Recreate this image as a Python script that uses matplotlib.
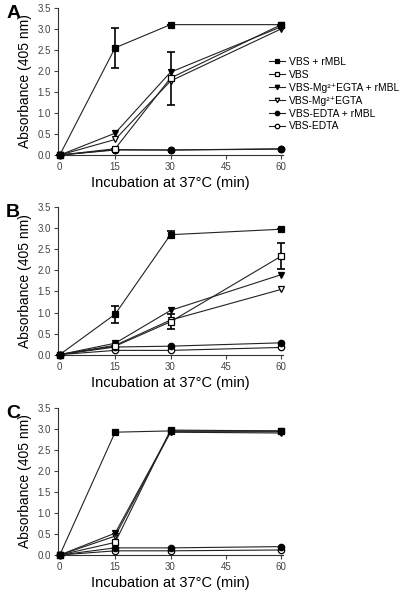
import matplotlib
matplotlib.use("Agg")
import matplotlib.pyplot as plt

plt.rcParams['font.family'] = ['Liberation Sans', 'DejaVu Sans']

times = [0, 15, 30, 60]
labels = ['VBS + rMBL', 'VBS', 'VBS-Mg²⁺EGTA + rMBL', 'VBS-Mg²⁺EGTA',
          'VBS-EDTA + rMBL', 'VBS-EDTA']

# panel A
a_vbs_rmbl = [0, 2.55, 3.10, 3.10]
a_vbs = [0, 0.15, 1.83, 3.10]
a_mg_rmbl = [0, 0.52, 1.97, 3.05]
a_mg = [0, 0.37, 1.76, 3.00]
a_edta_rmbl = [0, 0.13, 0.12, 0.15]
a_edta = [0, 0.12, 0.12, 0.14]
a_err_vbs_rmbl = [0, 0.47, 0, 0]
a_err_vbs = [0, 0, 0.63, 0]

# panel B
b_vbs_rmbl = [0, 0.96, 2.85, 2.98]
b_vbs = [0, 0.20, 0.78, 2.34]
b_mg_rmbl = [0, 0.27, 1.05, 1.90]
b_mg = [0, 0.22, 0.82, 1.55]
b_edta_rmbl = [0, 0.18, 0.20, 0.28]
b_edta = [0, 0.10, 0.10, 0.17]
b_err_vbs_rmbl = [0, 0.20, 0.08, 0]
b_err_vbs = [0, 0, 0.18, 0.31]

# panel C
c_vbs_rmbl = [0, 2.92, 2.95, 2.95]
c_vbs = [0, 0.30, 2.97, 2.95]
c_mg_rmbl = [0, 0.52, 2.93, 2.93]
c_mg = [0, 0.45, 2.92, 2.90]
c_edta_rmbl = [0, 0.17, 0.17, 0.20]
c_edta = [0, 0.10, 0.10, 0.12]

styles = [('s', 'black'), ('s', 'white'), ('v', 'black'), ('v', 'white'),
          ('o', 'black'), ('o', 'white')]

fig = plt.figure(figsize=(4.05, 6.01), dpi=100)

panels = [
    ('A', 0.742, [a_vbs_rmbl, a_vbs, a_mg_rmbl, a_mg, a_edta_rmbl, a_edta],
     {0: a_err_vbs_rmbl, 1: a_err_vbs}),
    ('B', 0.410, [b_vbs_rmbl, b_vbs, b_mg_rmbl, b_mg, b_edta_rmbl, b_edta],
     {0: b_err_vbs_rmbl, 1: b_err_vbs}),
    ('C', 0.0765, [c_vbs_rmbl, c_vbs, c_mg_rmbl, c_mg, c_edta_rmbl, c_edta], {}),
]

for letter, bottom, series, errs in panels:
    ax = fig.add_axes([0.143, bottom, 0.556, 0.245])
    # draw back to front so filled squares end up on top
    for i in reversed(range(len(series))):
        m, fc = styles[i]
        ms = 5 if m == 's' else 4.6
        ax.plot(times, series[i], color='#222222', lw=0.8, marker=m, ms=ms,
                mfc=fc, mec='black', mew=0.9, label=labels[i], zorder=3 + (6 - i) * 0.1,
                clip_on=False)
        if i in errs:
            ax.errorbar(times, series[i], yerr=errs[i], fmt='none', ecolor='black',
                        elinewidth=1.2, capsize=3, capthick=1.2, zorder=2, clip_on=False)
    ax.set_xlim(-0.5, 60.5)
    ax.set_ylim(0, 3.5)
    ax.set_xticks([0, 15, 30, 45, 60])
    ax.set_yticks([0, 0.5, 1.0, 1.5, 2.0, 2.5, 3.0, 3.5])
    ax.set_yticklabels(['0.0', '0.5', '1.0', '1.5', '2.0', '2.5', '3.0', '3.5'])
    ax.spines['top'].set_visible(False)
    ax.spines['right'].set_visible(False)
    for s in ['left', 'bottom']:
        ax.spines[s].set_linewidth(0.8)
        ax.spines[s].set_color('#333333')
    ax.tick_params(labelsize=7, length=3, width=0.8, colors='#444444', pad=2)
    ax.set_xlabel('Incubation at 37°C (min)', fontsize=10.5, labelpad=3)
    ax.set_ylabel('Absorbance (405 nm)', fontsize=10, labelpad=4)
    fig.text(0.015, bottom + 0.236, letter, fontsize=14, fontweight='heavy',
             ha='left', va='center')
    if letter == 'A':
        h, l = ax.get_legend_handles_labels()
        ax.legend(h[::-1], l[::-1], loc='upper left',
                  bbox_to_anchor=(0.655, 0.912), bbox_transform=fig.transFigure,
                  frameon=False, fontsize=7.4, handlelength=1.5, handletextpad=0.4,
                  labelspacing=0.28, borderaxespad=0, markerscale=0.7)

fig.savefig('out.png', dpi=100)
